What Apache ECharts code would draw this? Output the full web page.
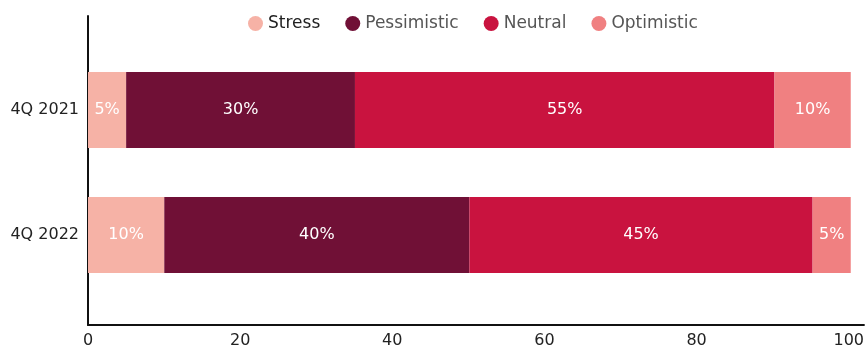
<!DOCTYPE html>
<html>
<head>
<meta charset="utf-8">
<script src="https://cdn.jsdelivr.net/npm/echarts@6/dist/echarts.min.js"></script>
<style>
  html, body { margin: 0; padding: 0; background: #fff; }
  #chart { width: 867px; height: 349px; }
</style>
</head>
<body>
<div id="chart"></div>
<script>
// Scenario shares per quarter (percent)
const categories = ['4Q 2021', '4Q 2022'];
const stress = [5, 10];
const pessimistic = [30, 40];
const neutral = [55, 45];
const optimistic = [10, 5];
const xTicks = [0, 20, 40, 60, 80, 100];

const FONT = 'DejaVu Sans';
const colors = {
  Stress: '#F6B2A6',
  Pessimistic: '#701036',
  Neutral: '#C9133F',
  Optimistic: '#F08081'
};

// category axis runs bottom-to-top, so reverse to keep 4Q 2021 on top
const cats = categories.slice().reverse();
const rev = arr => arr.slice().reverse();

function barSeries(name, values) {
  return {
    name: name,
    type: 'bar',
    stack: 'total',
    xAxisIndex: 0,
    yAxisIndex: 0,
    barWidth: 76,
    itemStyle: { color: colors[name] },
    label: {
      show: true,
      position: 'inside',
      color: '#fff',
      fontFamily: FONT,
      fontSize: 16,
      formatter: p => p.value + '%'
    },
    emphasis: { disabled: true },
    data: rev(values)
  };
}

const chart = echarts.init(document.getElementById('chart'), null, { renderer: 'canvas' });
chart.setOption({
  animation: false,
  textStyle: { fontFamily: FONT },
  legend: {
    top: 10,
    left: 243,
    icon: 'circle',
    itemWidth: 15,
    itemHeight: 15,
    itemGap: 25,
    textStyle: { fontFamily: FONT, fontSize: 17, color: '#555' },
    data: [
      { name: 'Stress', textStyle: { color: '#222' } },
      'Pessimistic', 'Neutral', 'Optimistic'
    ]
  },
  grid: [
    // bars
    { left: 88, right: 1, top: 47.5, bottom: 51.5 },
    // frame with the visible axes
    { left: 88, right: 1, top: 16, bottom: 23 }
  ],
  xAxis: [
    { gridIndex: 0, type: 'value', min: 0, max: 102, show: false },
    {
      gridIndex: 1, type: 'value', min: 0, max: 102, interval: 20,
      axisLine: { show: true, lineStyle: { color: '#111', width: 2 } },
      axisTick: { show: false },
      splitLine: { show: false },
      axisLabel: {
        showMaxLabel: false,
        color: '#222', fontFamily: FONT, fontSize: 16, margin: 8,
        formatter: v => (xTicks.indexOf(v) >= 0 ? String(v) : '')
      }
    }
  ],
  yAxis: [
    {
      gridIndex: 0, type: 'category', data: cats,
      axisLine: { show: false },
      axisTick: { show: false },
      axisLabel: { color: '#222', fontFamily: FONT, fontSize: 16, margin: 9 }
    },
    {
      gridIndex: 1, type: 'value', min: 0, max: 1,
      axisLine: { show: true, lineStyle: { color: '#111', width: 2 } },
      axisTick: { show: false },
      axisLabel: { show: false },
      splitLine: { show: false }
    }
  ],
  series: [
    barSeries('Stress', stress),
    barSeries('Pessimistic', pessimistic),
    barSeries('Neutral', neutral),
    barSeries('Optimistic', optimistic)
  ]
});
</script>
</body>
</html>
